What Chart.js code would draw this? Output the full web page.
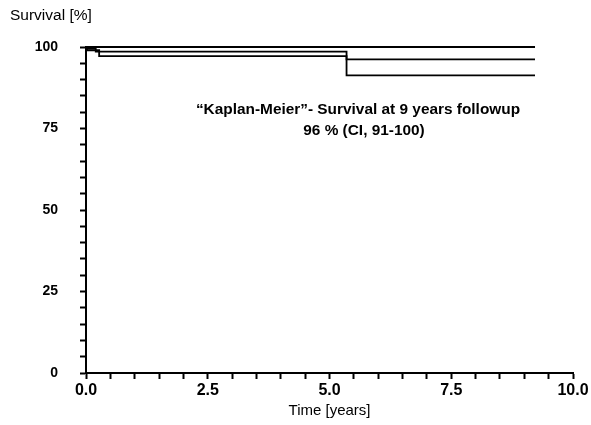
<!DOCTYPE html>
<html>
<head>
<meta charset="utf-8">
<script src="https://cdn.jsdelivr.net/npm/chart.js@4.4.1/dist/chart.umd.min.js"></script>
<style>
  html, body { margin: 0; padding: 0; background: #fff; }
  #wrap { width: 591px; height: 425px; position: relative; }
</style>
</head>
<body>
<div id="wrap"><canvas id="km"></canvas></div>
<script>
// Kaplan-Meier survival, time in years, survival in %
var upperTimes = [0, 9.22];
var upperVals  = [100, 100];
var estTimes   = [0, 0.02, 0.2, 5.35, 9.22];
var estVals    = [100, 99.5, 98.6, 96.2, 96.2];
var lowerTimes = [0, 0.02, 0.27, 5.35, 9.22];
var lowerVals  = [100, 99.0, 97.2, 91.3, 91.3];

var yTitle = "Survival [%]";
var xTitle = "Time [years]";
var noteLines = ["\u201CKaplan-Meier\u201D- Survival at 9 years followup", "96 % (CI, 91-100)"];

function pts(t, v) {
  return t.map(function (x, i) { return { x: x, y: v[i] }; });
}

function series(label, t, v) {
  return {
    label: label,
    data: pts(t, v),
    stepped: true,
    borderColor: "#000",
    borderWidth: 1.8,
    pointRadius: 0,
    fill: false
  };
}

var textPlugin = {
  id: "texts",
  afterDraw: function (chart) {
    var c = chart.ctx;
    c.save();
    c.fillStyle = "#000";
    c.textBaseline = "middle";
    c.textAlign = "left";
    c.font = "15.5px 'Liberation Sans', Arial, sans-serif";
    c.fillText(yTitle, 10, 16);
    c.textAlign = "center";
    c.font = "bold 15.4px 'Liberation Sans', Arial, sans-serif";
    c.fillText(noteLines[0], 358, 110);
    c.fillText(noteLines[1], 364, 131);
    c.restore();
  }
};

var ctx1 = document.getElementById("km");
var km = new Chart(ctx1, {
  type: 'line',
  data: {
    datasets: [
      series("Upper CI", upperTimes, upperVals),
      series("Survival", estTimes, estVals),
      series("Lower CI", lowerTimes, lowerVals)
    ]
  },
  options: {
    responsive: true,
    maintainAspectRatio: false,
    animation: false,
    clip: false,
    layout: { padding: { left: 0, top: 47, right: 18, bottom: 0 } },
    plugins: { legend: { display: false }, tooltip: { enabled: false } },
    scales: {
      x: {
        type: 'linear',
        min: 0,
        max: 10,
        afterFit: function (s) { s.height = 52; },
        border: { display: true, color: "#000", width: 2 },
        grid: { display: true, drawOnChartArea: false, drawTicks: true, tickLength: 6, color: "#000", tickWidth: 2 },
        ticks: {
          stepSize: 0.5,
          autoSkip: false,
          maxRotation: 0,
          padding: 2,
          color: "#000",
          font: { family: "'Liberation Sans', Arial, sans-serif", size: 16, weight: 'bold' },
          callback: function (v) { return (Math.abs(v / 2.5 - Math.round(v / 2.5)) < 1e-6) ? v.toFixed(1) : ''; }
        },
        title: {
          display: true,
          text: xTitle,
          color: "#000",
          padding: { top: 0, bottom: 5 },
          font: { family: "'Liberation Sans', Arial, sans-serif", size: 15 }
        }
      },
      y: {
        min: 0,
        max: 100,
        afterFit: function (s) { s.width = 86; },
        border: { display: true, color: "#000", width: 2 },
        grid: { display: true, drawOnChartArea: false, drawTicks: true, tickLength: 6, color: "#000", tickWidth: 2 },
        ticks: {
          stepSize: 5,
          autoSkip: false,
          padding: 22,
          color: "#000",
          font: { family: "'Liberation Sans', Arial, sans-serif", size: 14, weight: 'bold' },
          callback: function (v) { return v % 25 === 0 ? String(v) : ''; }
        }
      }
    }
  },
  plugins: [textPlugin]
});
</script>
</body>
</html>
